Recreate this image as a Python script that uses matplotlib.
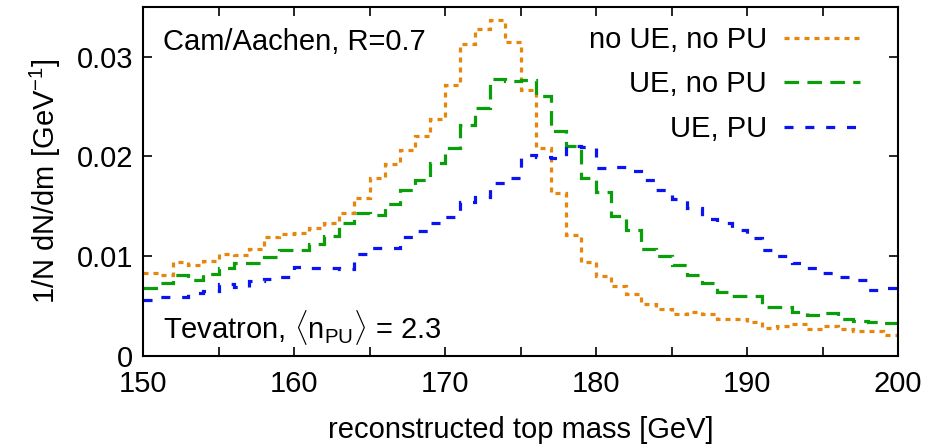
import matplotlib
matplotlib.use("Agg")
import matplotlib.pyplot as plt
import numpy as np

plt.rcParams['font.family'] = ['Liberation Sans', 'DejaVu Sans']
plt.rcParams['mathtext.fontset'] = 'custom'
plt.rcParams['mathtext.rm'] = 'Liberation Sans'
plt.rcParams['mathtext.it'] = 'Liberation Sans'
plt.rcParams['lines.scale_dashes'] = False

# 1 GeV bins from 150 to 200 GeV
mass_edges = np.arange(150, 201, 1)

no_ue_no_pu = [
    0.0083, 0.0081, 0.0094, 0.0091, 0.0095, 0.0102, 0.0101, 0.0107, 0.0119, 0.0122,
    0.0123, 0.0128, 0.0133, 0.0143, 0.0158, 0.0178, 0.0192, 0.0206, 0.0221, 0.0238,
    0.0272, 0.0313, 0.0328, 0.0337, 0.0315, 0.0267, 0.0208, 0.0163, 0.0121, 0.0094,
    0.0080, 0.0070, 0.0062, 0.0052, 0.0047, 0.0042, 0.0044, 0.0042, 0.0037, 0.0037,
    0.0034, 0.0028, 0.0030, 0.0032, 0.0027, 0.0030, 0.0027, 0.0025, 0.0025, 0.0021,
]
ue_no_pu = [
    0.0068, 0.0073, 0.0081, 0.0076, 0.0082, 0.0088, 0.0093, 0.0093, 0.0099, 0.0106,
    0.0106, 0.0112, 0.0120, 0.0133, 0.0143, 0.0141, 0.0152, 0.0166, 0.0176, 0.0193,
    0.0208, 0.0232, 0.0249, 0.0278, 0.0276, 0.0277, 0.0261, 0.0226, 0.0210, 0.0178,
    0.0164, 0.0140, 0.0126, 0.0107, 0.0100, 0.0091, 0.0081, 0.0073, 0.0064, 0.0060,
    0.0060, 0.0049, 0.0049, 0.0044, 0.0041, 0.0043, 0.0037, 0.0035, 0.0034, 0.0033,
]
ue_pu = [
    0.0056, 0.0059, 0.0059, 0.0063, 0.0065, 0.0072, 0.0069, 0.0075, 0.0077, 0.0079,
    0.0089, 0.0088, 0.0088, 0.0087, 0.0102, 0.0108, 0.0108, 0.0119, 0.0125, 0.0133,
    0.0139, 0.0154, 0.0159, 0.0173, 0.0178, 0.0201, 0.0199, 0.0198, 0.0210, 0.0209,
    0.0188, 0.0189, 0.0185, 0.0176, 0.0166, 0.0157, 0.0148, 0.0137, 0.0133, 0.0126,
    0.0118, 0.0106, 0.0100, 0.0093, 0.0088, 0.0083, 0.0079, 0.0076, 0.0066, 0.0068,
]

labels = ['no UE, no PU', 'UE, no PU', 'UE, PU']
colors = ['#e8850c', '#0b9e0b', '#0a14f0']
styles = [(0, (3.6, 3.6)), (0, (10.5, 6.0)), (0, (6.5, 8.5))]

fs = 21

fig = plt.figure(figsize=(9.3, 4.46), dpi=100)
ax = fig.add_axes([0.1538, 0.2025, 0.8118, 0.7818])

for vals, lab, col, ls in zip([no_ue_no_pu, ue_no_pu, ue_pu], labels, colors, styles):
    ax.stairs(vals, mass_edges, baseline=None, color=col, linestyle=ls,
              linewidth=2.3, label=lab)

ax.set_xlim(150, 200)
ax.set_ylim(0, 0.035)
ax.set_xticks(np.arange(150, 201, 10))
ax.set_xticks(np.arange(155, 200, 10), minor=True)
ax.set_yticks([0, 0.01, 0.02, 0.03])
ax.set_yticklabels(['0', '0.01', '0.02', '0.03'])
ax.tick_params(which='both', direction='in', top=True, right=True,
               length=6.5, width=1.2, labelsize=fs, pad=7)
ax.tick_params(axis='x', which='both', pad=10.5)
for s in ax.spines.values():
    s.set_linewidth(1.5)

ax.set_xlabel('reconstructed top mass [GeV]', fontsize=fs, labelpad=13)
ax.set_ylabel(r'1/N dN/dm [GeV$^{-1}$]', fontsize=fs, labelpad=10)

ax.text(0.027, 0.90, 'Cam/Aachen, R=0.7', transform=ax.transAxes,
        fontsize=fs, ha='left', va='center')
ax.text(0.027, 0.082, r'Tevatron, $\langle$n$_{\mathrm{PU}}$$\rangle$ = 2.3',
        transform=ax.transAxes, fontsize=fs, ha='left', va='center')

ax.legend(loc='upper right', bbox_to_anchor=(0.950, 0.946), frameon=False,
          markerfirst=False, fontsize=fs, handlelength=2.6, handletextpad=0.6,
          labelspacing=0.57, borderpad=0, borderaxespad=0)

fig.savefig('out.png', dpi=100)
